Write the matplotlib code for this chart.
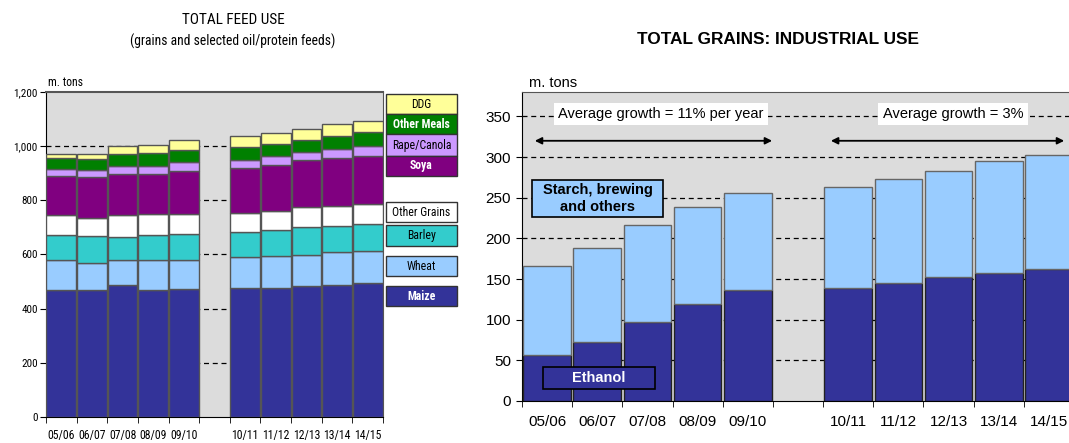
import matplotlib
matplotlib.use("Agg")
import matplotlib.pyplot as plt
from matplotlib.patches import Rectangle
import numpy as np

# ---------------- data ----------------
years = ['05/06', '06/07', '07/08', '08/09', '09/10', '10/11', '11/12', '12/13', '13/14', '14/15']

feed_names = ['Maize', 'Wheat', 'Barley', 'Other Grains', 'Soya', 'Rape/Canola', 'Other Meals', 'DDG']
maize = [470, 470, 487, 470, 474, 476, 478, 482, 487, 495]
wheat = [111, 99, 91, 108, 107, 114, 115, 117, 122, 119]
barley = [92, 98, 87, 93, 96, 93, 96, 101, 95, 99]
other_grains = [72, 67, 80, 77, 71, 70, 73, 74, 76, 73]
soya = [146, 153, 153, 150, 159, 166, 167, 174, 175, 176]
rape_canola = [23, 24, 30, 30, 33, 31, 33, 29, 35, 37]
other_meals = [42, 42, 42, 47, 45, 47, 46, 47, 49, 52]
ddg = [16, 19, 30, 31, 39, 39, 41, 39, 44, 43]

ethanol = [56, 73, 97, 119, 136, 139, 145, 152, 158, 162]
starch_others = [110, 115, 120, 120, 120, 124, 128, 131, 137, 141]

left_yticks = [0, 200, 400, 600, 800, 1000, 1200]
left_yticklabels = ['0', '200', '400', '600', '800', '1,000', '1,200']
right_yticks = [0, 50, 100, 150, 200, 250, 300, 350]

# ---------------- style ----------------
W, H = 1069, 443
fig = plt.figure(figsize=(W / 100, H / 100), dpi=100)
SANS = ['Liberation Sans', 'DejaVu Sans']
NARROW = ['Roboto Condensed', 'Liberation Sans', 'DejaVu Sans']
BG = '#DCDCDC'
feed_colors = ['#333399', '#99CCFF', '#33CCCC', '#FFFFFF', '#800080', '#CC99FF', '#008000', '#FFFF99']

def fx(px):
    return px / W

def fy(py):
    return 1 - py / H

pos = np.array([i if i < 5 else i + 1 for i in range(len(years))])

# ---------------- left chart ----------------
axL = fig.add_axes([fx(46), fy(417), fx(383 - 46), (417 - 92) / H])
axL.set_facecolor(BG)
series = [maize, wheat, barley, other_grains, soya, rape_canola, other_meals, ddg]
bottom = np.zeros(len(years))
for vals, col in zip(series, feed_colors):
    v = np.array(vals, dtype=float)
    axL.bar(pos, v, bottom=bottom, width=0.97, color=col, edgecolor='#555555', linewidth=1.0, zorder=3)
    bottom += v
axL.set_xlim(-0.5, 10.5)
axL.set_ylim(0, 1200)
axL.set_yticks(left_yticks)
axL.set_yticklabels(left_yticklabels, family=NARROW, fontsize=8)
for y in left_yticks[1:-1]:
    axL.axhline(y, color='black', linestyle=(0, (4, 3)), linewidth=0.9, zorder=1)
axL.set_xticks(pos)
axL.set_xticklabels(years, family=NARROW, fontsize=8.5)
axL.tick_params(axis='x', which='major', length=0, pad=9)
axL.set_xticks(np.arange(-0.5, 11, 1), minor=True)
axL.tick_params(axis='x', which='minor', length=4, direction='out', color='black')
axL.tick_params(axis='y', length=4, direction='out', pad=2)
for s in ['left', 'bottom']:
    axL.spines[s].set_color('black')
axL.spines['top'].set_color('#555555')
axL.spines['right'].set_color('#555555')
axL.spines['top'].set_linewidth(1.5)

fig.text(fx(233), fy(20), 'TOTAL FEED USE', family=NARROW, fontsize=11, ha='center', va='center')
fig.text(fx(233), fy(41), '(grains and selected oil/protein feeds)', family=NARROW, fontsize=9.8, ha='center', va='center')
fig.text(fx(48), fy(83), 'm. tons', family=NARROW, fontsize=8.5, ha='left', va='center')

# left legend boxes
legend_boxes = [
    ('DDG', 94, 114, 'black', 'normal'),
    ('Other Meals', 114, 134, 'white', 'bold'),
    ('Rape/Canola', 134, 156, 'black', 'normal'),
    ('Soya', 156, 176, 'white', 'bold'),
    ('Other Grains', 202, 222, 'black', 'normal'),
    ('Barley', 225, 246, 'black', 'normal'),
    ('Wheat', 256, 276, 'black', 'normal'),
    ('Maize', 286, 306, 'white', 'bold'),
]
for name, y0, y1, tc, fw in legend_boxes:
    col = feed_colors[feed_names.index(name)]
    fig.patches.append(Rectangle((fx(386), fy(y1)), fx(457 - 386), (y1 - y0) / H,
                                 transform=fig.transFigure, facecolor=col,
                                 edgecolor='#333333', linewidth=1.0))
    fig.text(fx(421.5), fy((y0 + y1) / 2), name, family=NARROW, fontsize=8.5, color=tc,
             fontweight=fw, ha='center', va='center')

# ---------------- right chart ----------------
axR = fig.add_axes([fx(522), fy(401), fx(1074 - 522), (401 - 92) / H])
axR.set_facecolor(BG)
axR.bar(pos, ethanol, width=0.95, color='#333399', edgecolor='#222222', linewidth=1.0, zorder=3)
axR.bar(pos, starch_others, bottom=ethanol, width=0.95, color='#99CCFF', edgecolor='#666666', linewidth=1.0, zorder=3)
axR.set_xlim(-0.5, 10.5)
axR.set_ylim(0, 380)
axR.set_yticks(right_yticks)
axR.set_yticklabels([str(v) for v in right_yticks], family=SANS, fontsize=11)
for y in right_yticks[1:]:
    axR.axhline(y, color='black', linestyle=(0, (4, 3)), linewidth=0.9, zorder=1)
axR.set_xticks(pos)
axR.set_xticklabels(years, family=SANS, fontsize=11)
axR.tick_params(axis='x', which='major', length=0, pad=10)
axR.set_xticks(np.arange(-0.5, 11, 1), minor=True)
axR.tick_params(axis='x', which='minor', length=4, direction='out', color='black')
axR.tick_params(axis='y', length=4, direction='out', pad=4)
axR.spines['top'].set_color('#555555')
axR.spines['right'].set_visible(False)

fig.text(fx(778), fy(40), 'TOTAL GRAINS: INDUSTRIAL USE', family=SANS, fontsize=12.4, fontweight='bold',
         ha='center', va='center')
fig.text(fx(529), fy(83), 'm. tons', family=SANS, fontsize=10.5, ha='left', va='center')

# annotations
axR.annotate('', xy=(4.54, 320), xytext=(-0.3, 320),
             arrowprops=dict(arrowstyle='<|-|>', color='black', lw=1.3, mutation_scale=10), zorder=5)
axR.annotate('', xy=(10.36, 320), xytext=(5.6, 320),
             arrowprops=dict(arrowstyle='<|-|>', color='black', lw=1.3, mutation_scale=10), zorder=5)
axR.text(2.27, 353, 'Average growth = 11% per year', family=SANS, fontsize=10.5, ha='center', va='center',
         bbox=dict(boxstyle='square,pad=0.3', facecolor='white', edgecolor='none'), zorder=6)
axR.text(8.09, 353, 'Average growth = 3%', family=SANS, fontsize=10.5, ha='center', va='center',
         bbox=dict(boxstyle='square,pad=0.3', facecolor='white', edgecolor='none'), zorder=6)

# series label boxes in figure pixels
fig.patches.append(Rectangle((fx(532), fy(217)), fx(663 - 532), (217 - 180) / H, transform=fig.transFigure,
                             facecolor='#99CCFF', edgecolor='black', linewidth=1.2, zorder=10))
fig.text(fx(597.5), fy(198.5), 'Starch, brewing\nand others', family=SANS, fontsize=10.5, fontweight='bold',
         ha='center', va='center', linespacing=1.2, zorder=11)
fig.patches.append(Rectangle((fx(543), fy(389)), fx(655 - 543), (389 - 367) / H, transform=fig.transFigure,
                             facecolor='#333399', edgecolor='black', linewidth=1.2, zorder=10))
fig.text(fx(599), fy(378), 'Ethanol', family=SANS, fontsize=10.5, fontweight='bold', color='white',
         ha='center', va='center', zorder=11)

fig.savefig('out.png', dpi=100)
